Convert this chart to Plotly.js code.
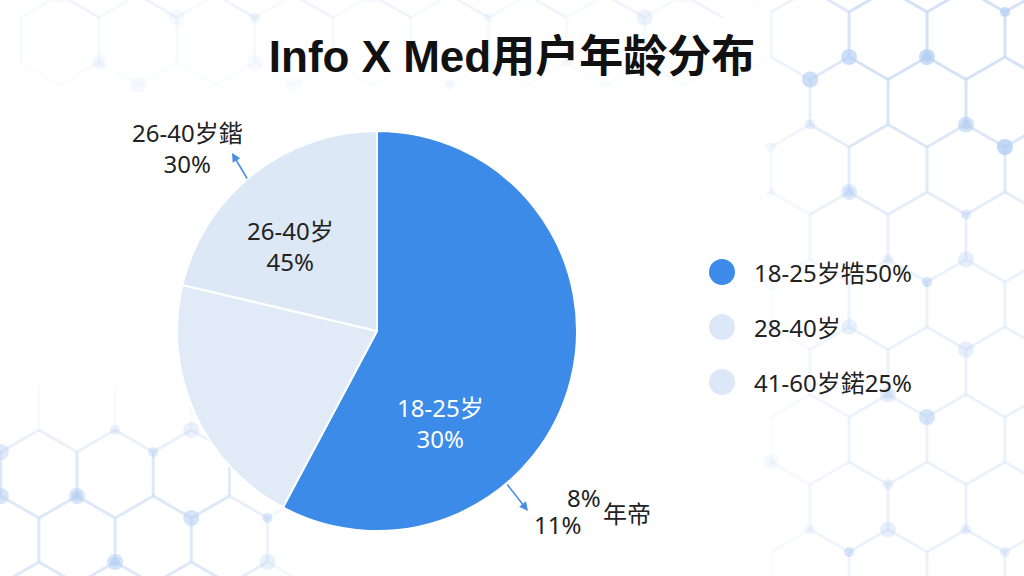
<!DOCTYPE html>
<html>
<head>
<meta charset="utf-8">
<script src="https://cdn.plot.ly/plotly-3.0.1.min.js"></script>
<style>
  html, body { margin: 0; padding: 0; background: #fff; }
  #graph { width: 1024px; height: 576px; }
</style>
</head>
<body>
<div id="graph"></div>
<script>
// chart data
var sliceNames = ['18-25岁', '41-60岁', '26-40岁'];
var sliceValues = [57.8, 20.9, 21.3];
var sliceColors = ['#3d8be8', '#e1ebf8', '#dde8f7'];

var legendLabels = ['18-25岁牿50%', '28-40岁', '41-60岁鍩25%'];
var legendColors = ['#3d8be8', '#dce8f7', '#dce8f7'];

var insideLabels = ['18-25岁<br>30%', '26-40岁<br>45%'];
var outsideLabels = ['26-40岁鍇<br>30%', '8%', '11%', '年帝'];

var W = 1024, H = 576;
function px(x) { return x / W; }
function py(y) { return 1 - y / H; }

var FONT = 'Noto Sans, Noto Sans CJK SC, sans-serif';

// faint molecule / hex network behind the chart
var shapes = [];
function clamp(v) { return Math.max(0, Math.min(1, v)); }

function hexPatch(cx0, cy0, R, imin, imax, jmin, jmax, alphaFn) {
  var w = Math.sqrt(3) * R;
  var seen = {};
  for (var j = jmin; j <= jmax; j++) {
    for (var i = imin; i <= imax; i++) {
      var cx = cx0 + i * w + ((j & 1) ? w / 2 : 0);
      var cy = cy0 + j * 1.5 * R;
      var v = [];
      for (var k = 0; k < 6; k++) {
        var a = (-90 + 60 * k) * Math.PI / 180;
        v.push([cx + R * Math.cos(a), cy + R * Math.sin(a)]);
      }
      for (var k = 0; k < 6; k++) {
        var p = v[k], q = v[(k + 1) % 6];
        var key = [Math.round(p[0] + q[0]), Math.round(p[1] + q[1])].join(',');
        if (seen[key]) continue;
        seen[key] = 1;
        var al = alphaFn((p[0] + q[0]) / 2, (p[1] + q[1]) / 2);
        if (al < 0.03) continue;
        shapes.push({
          type: 'line', xref: 'paper', yref: 'paper', layer: 'below',
          x0: px(p[0]), y0: py(p[1]), x1: px(q[0]), y1: py(q[1]),
          line: { color: 'rgba(190,211,240,' + al.toFixed(2) + ')', width: 3 }
        });
      }
      for (var k = 0; k < 6; k++) {
        var h = Math.abs(i * 7 + j * 13 + k * 5) % 9;
        if (h > 1) continue;
        var al2 = alphaFn(v[k][0], v[k][1]) * 1.1;
        if (al2 < 0.05) continue;
        var r = h === 0 ? 8 : 5;
        shapes.push({
          type: 'circle', xref: 'paper', yref: 'paper', layer: 'below',
          x0: px(v[k][0] - r), x1: px(v[k][0] + r),
          y0: py(v[k][1] + r), y1: py(v[k][1] - r),
          fillcolor: 'rgba(178,206,242,' + Math.min(al2, 1).toFixed(2) + ')',
          line: { width: 0 }
        });
      }
    }
  }
}

// right side: strongest at the top right
hexPatch(927, 102, 45, -3, 2, -1, 8, function (x, y) {
  var base = clamp((x - 740) / 120);
  return base * (0.3 + 0.35 * clamp((260 - y) / 200));
});
// bottom left
hexPatch(77, 540, 44, -1, 4, -3, 1, function (x, y) {
  return 0.5 * clamp((320 - x) / 100) * clamp((y - 390) / 80);
});
// very faint top band
hexPatch(60, 40, 45, 0, 9, -1, 1, function (x, y) {
  if (x > 720) return 0;
  return 0.12 * clamp((110 - y) / 60);
});

// legend circles
legendLabels.forEach(function (lab, n) {
  var cy = 272 + n * 55, r = 13;
  shapes.push({
    type: 'circle', xref: 'paper', yref: 'paper',
    x0: px(722 - r), x1: px(722 + r), y0: py(cy + r), y1: py(cy - r),
    fillcolor: legendColors[n], line: { width: 0 }
  });
});

var annotations = [];
function txt(t, x, y, color, extra) {
  var a = {
    text: t, xref: 'paper', yref: 'paper', x: px(x), y: py(y),
    xanchor: 'center', yanchor: 'middle', showarrow: false,
    font: { family: FONT, size: 24, color: color || '#222' }
  };
  for (var k in extra) a[k] = extra[k];
  annotations.push(a);
}

txt(insideLabels[0], 440, 423, '#ffffff');
txt(insideLabels[1], 290, 246, '#222');
txt(outsideLabels[0], 187, 148, '#222');
txt(outsideLabels[1], 584, 497, '#222');
txt(outsideLabels[2], 557, 524, '#222');
txt(outsideLabels[3], 627, 513, '#222');

legendLabels.forEach(function (lab, n) {
  txt(lab, 752, 272 + n * 55, '#222', { xanchor: 'left' });
});

// leader arrows
annotations.push({
  text: '', xref: 'paper', yref: 'paper', x: px(232), y: py(153),
  ax: 16, ay: 27, showarrow: true, arrowhead: 2, arrowsize: 1.1,
  arrowwidth: 1.6, arrowcolor: '#4a8fe0'
});
annotations.push({
  text: '', xref: 'paper', yref: 'paper', x: px(528), y: py(511),
  ax: -22, ay: -28, showarrow: true, arrowhead: 2, arrowsize: 1.1,
  arrowwidth: 1.6, arrowcolor: '#4a8fe0'
});

var data = [{
  type: 'pie',
  labels: sliceNames,
  values: sliceValues,
  sort: false,
  direction: 'clockwise',
  rotation: 0,
  textinfo: 'none',
  hoverinfo: 'label+percent',
  marker: { colors: sliceColors, line: { color: '#ffffff', width: 2 } },
  domain: { x: [px(176), px(578)], y: [py(531), py(131)] }
}];

var layout = {
  width: W, height: H,
  margin: { l: 0, r: 0, t: 0, b: 0 },
  paper_bgcolor: '#ffffff',
  showlegend: false,
  title: {
    text: 'Info X Med用户年龄分布',
    x: 0.5, xanchor: 'center', y: py(57), yanchor: 'middle',
    font: { family: 'Liberation Sans, Noto Sans CJK SC, sans-serif', size: 44, color: '#111', weight: 'bold' }
  },
  shapes: shapes,
  annotations: annotations
};

Plotly.newPlot('graph', data, layout, { displayModeBar: false, staticPlot: true });
</script>
</body>
</html>
